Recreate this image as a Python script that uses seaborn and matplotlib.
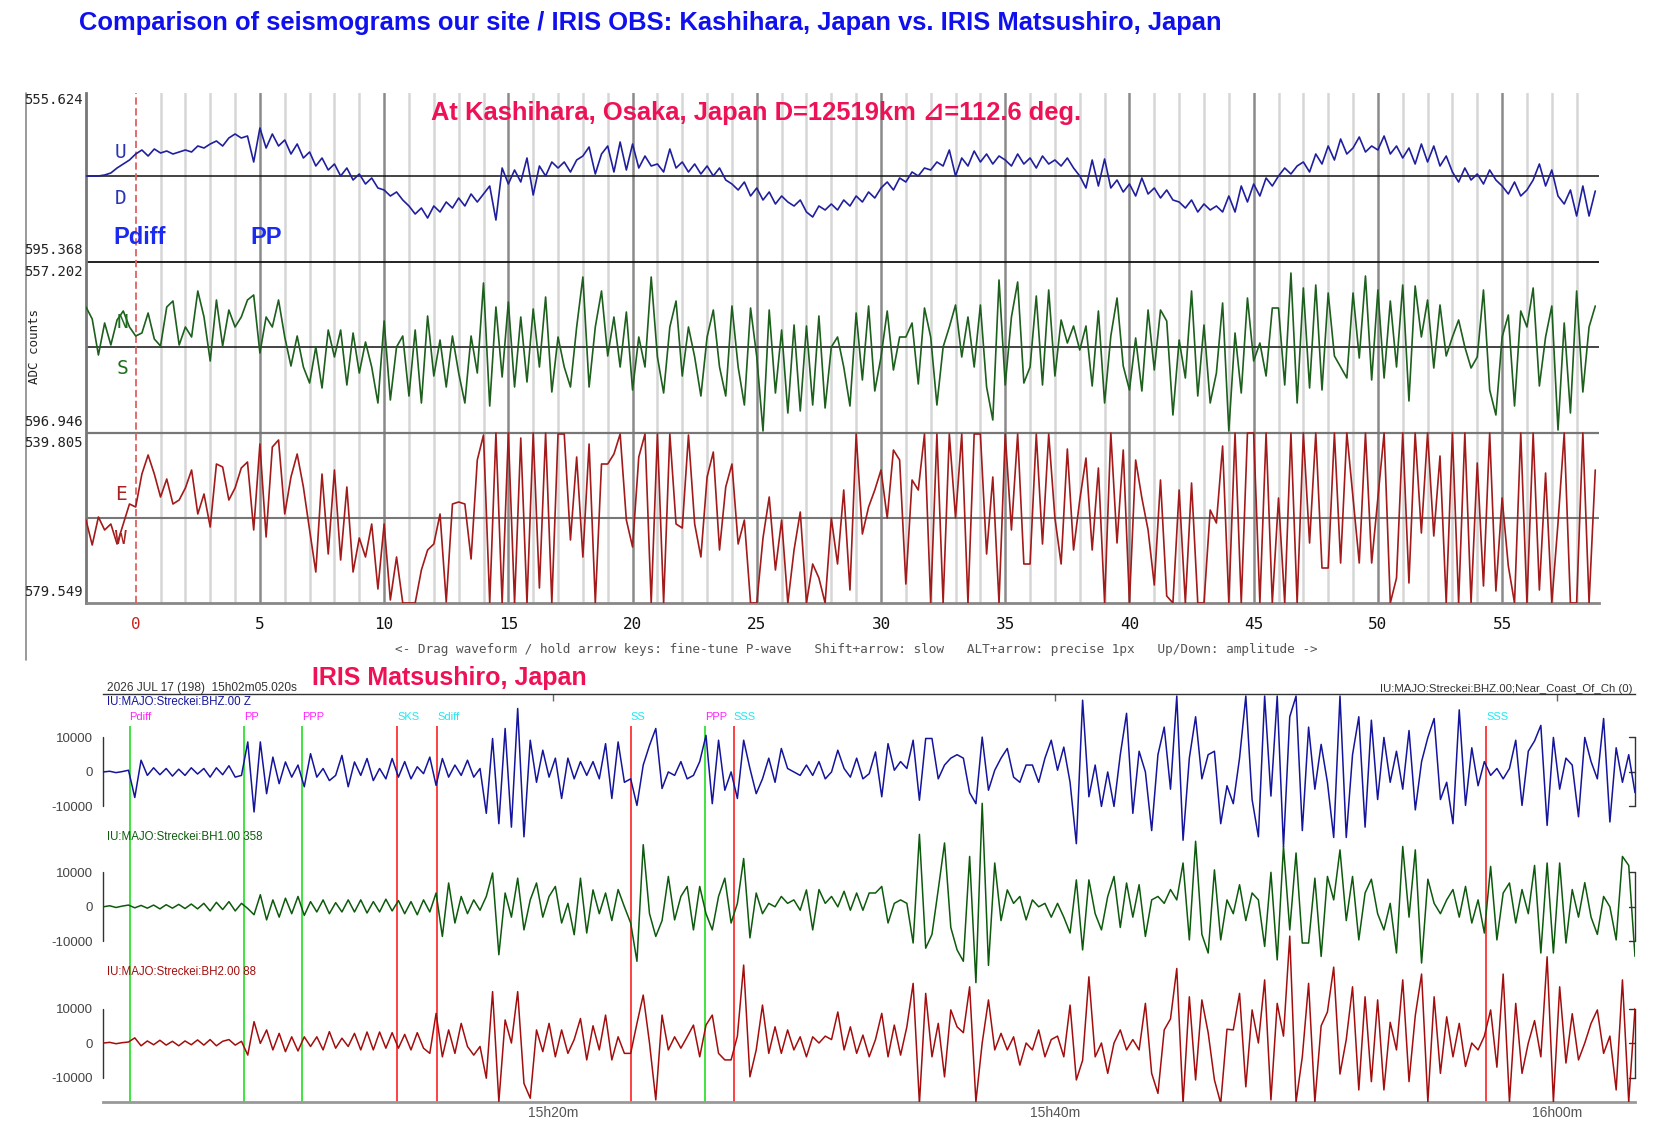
import numpy as np
import pandas as pd
import seaborn as sns
import matplotlib
matplotlib.use("Agg")
from matplotlib import pyplot as plt
from matplotlib.lines import Line2D

# ---- Kashihara (top) traces, read every 0.25 s from -2 s (relative amplitude, panel half = 85) ----
u_trace = [
    0, 0, 0, 1,   3, 8, 12, 16,   22, 26, 20, 27,   23, 25, 22, 24,   26, 24, 30, 28,
    32, 35, 30, 38,   42, 38, 40, 14,   48, 28, 42, 30,   36, 22, 32, 18,   24, 10, 18, 6,
    12, 0, 8, -4,   2, -8, -2, -12,   -14, -20, -16, -24,   -30, -38, -32, -42,   -30, -36, -26, -32,
    -22, -30, -18, -26,   -18, -10, -44, 8,   -8, 6, -6, 18,   -19, 10, 0, 14,   8, 14, 4, 16,
    20, 29, 2, 22,   30, 4, 34, 6,   32, 8, 20, 10,   12, 4, 27, 8,   14, 4, 12, 2,
    10, 0, 8, -4,   -8, -14, -6, -20,   -12, -24, -16, -28,   -20, -26, -30, -24,   -36, -41, -30, -34,
    -28, -34, -24, -30,   -20, -26, -16, -22,   -12, -6, -14, -2,   -6, 4, 0, 8,   6, 14, 10, 26,
    0, 18, 10, 25,   14, 22, 12, 20,   16, 10, 22, 12,   18, 8, 20, 12,   16, 10, 18, 8,
    0, -12, 16, -10,   17, -12, -4, -16,   -8, -20, -2, -18,   -12, -22, -14, -24,   -26, -32, -24, -36,
    -28, -34, -30, -36,   -20, -36, -10, -26,   -8, -20, -2, -10,   0, 8, 2, 10,   14, 4, 22, 12,
    30, 16, 37, 22,   28, 39, 24, 30,   26, 40, 22, 30,   18, 28, 12, 32,   14, 30, 10, 20,
    4, -6, 8, -4,   2, -8, 6, -4,   -10, -18, -6, -20,   -14, -4, 12, -10,   6, -20, -28, -14,
    -40, -10, -40, -15,
]
s_trace = [
    40, 28, -8, 24,   2, 27, 36, 20,   11, 14, 34, 8,   1, 40, 46, 2,   20, 10, 56, 30,
    -14, 47, 1, 37,   20, 30, 47, 52,   -6, 30, 20, 47,   10, -19, 11, -20,   -36, 0, -41, 17,
    -10, 17, -38, 14,   -26, 5, -20, -56,   26, -53, 0, 11,   -49, 17, -56, 31,   -29, 7, -40, 11,
    -26, -56, 11, -26,   64, -59, 40, -30,   45, -40, 30, -35,   38, -20, 50, -45,   10, -20, -40, 20,
    70, -40, 20, 56,   -9, 30, -20, 35,   -43, 10, -20, 70,   -10, -46, 20, 46,   -29, 20, -10, -49,
    10, 37, -20, -49,   41, -20, -58, 39,   -10, -84, 37, -46,   17, -66, 22, -64,   21, -58, 31, -61,
    0, 10, -20, -59,   34, -33, 41, -44,   -10, 36, -23, 10,   10, 24, -37, 39,   10, -58, 0, 20,
    42, -10, 30, -20,   42, -40, -73, 67,   -38, 30, 65, -36,   -20, 51, -38, 57,   -29, 27, 4, 21,
    -3, 21, -39, 36,   -56, 11, 49, -19,   -43, 9, -44, 37,   -23, 37, 26, -68,   7, -31, 56, -49,
    22, -56, -26, 44,   -84, 14, -46, 49,   -14, 4, -29, 39,   39, -38, 74, -56,   59, -41, 62, -43,
    54, -9, -20, -31,   54, -11, 71, -33,   57, -31, 46, -20,   62, -54, 61, 10,   47, -21, 42, -9,
    10, 27, 0, -21,   -10, 57, -43, -68,   10, 32, -59, 36,   20, 59, -39, 10,   41, -83, 24, -66,
    56, -45, 20, 41,
]
e_trace = [
    -2, -27, 1, -12,   -6, -26, -6, 14,   11, 44, 63, 44,   21, 39, 14, 18,   30, 48, 4, 24,
    -9, 54, 51, 18,   30, 50, 56, -12,   74, -19, 71, 78,   4, 41, 64, 31,   -12, -54, 44, -36,
    48, -42, 31, -54,   -20, -39, -6, -71,   -6, -82, -39, -85,   -85, -85, -52, -32,   -26, 4, -84, 14,
    16, 14, -41, 58,   83, -85, 85, -85,   85, -85, 80, -85,   85, -70, 85, -85,   84, 84, -22, 61,
    -39, 74, -85, 54,   54, 64, 84, -2,   -29, 61, 84, -85,   84, -85, 84, -6,   -10, 83, -6, -39,
    41, 66, -32, 31,   54, -26, -2, -85,   -85, -20, 21, -52,   -2, -85, -32, 6,   -85, -46, -60, -85,
    0, -46, 28, -72,   84, -16, 11, 28,   48, 0, 68, 58,   -66, 38, 28, 84,   -85, 84, -85, 84,
    0, 84, -85, 84,   84, -36, 41, -85,   84, -12, 84, -46,   -46, 84, -26, 84,   0, -46, 69, -32,
    18, 60, -32, 50,   -85, 85, -25, 68,   -85, 58, 20, -12,   -67, 38, -78, -85,   28, -85, 35, -85,
    -85, 8, -5, 72,   -85, 85, -85, 85,   85, -85, 85, -85,   20, -85, 85, -85,   85, -25, 85, -50,
    -50, 85, -45, 85,   20, -45, 85, -45,   20, 85, -85, -60,   85, -65, 85, -15,   85, -18, 62, -85,
    85, -85, 85, -85,   55, -68, 85, -73,   20, -48, -85, 85,   -85, 85, -72, 45,   -85, -5, 85, -85,
    -85, 85, -85, 48,
]
top_ticks = list(range(0, 60, 5))
top_limits = [("555.624", "595.368"), ("557.202", "596.946"), ("539.805", "579.549")]

# ---- IRIS MAJO (bottom) traces, thousand counts, every 0.25 min from 15h02.1m ----
z_trace = [
    0, 0.2, -0.2, 0.1,   0.5, -7.4, 3.4, -1,   1.2, -0.8, 1, -1.2,   0.8, -1, 1.2, -0.6,
    1, -1.5, 1.2, -0.8,   1.8, -1.5, -1, 8.7,   -11.6, 8.7, -6.3, 4.3,   -3.4, 2.9, -1.5, 2,
    -4.3, 5.3, -1.5, 1,   -2.5, -1, 4.8, -4.3,   2.9, -1, 3.9, -2.5,   1, -2, 3.9, -1.5,
    3, -2, 1.5, -0.5,   4.3, -3.9, 3.9, -1.5,   2, -1, 3.4, -1.5,   1, -12, 9.7, -15,
    12.6, -16, 18.4, -18.8,   9.2, -3, 6.3, -1.5,   4, -7.7, 4, -2,   3, -1, 3, -2,
    8.2, -7.7, 8.7, -3,   -2, -9.7, 2, 7.7,   12.6, -4.8, 0, -1,   3, -2, -1, 3,
    10.6, -9.2, 9.2, -5.3,   0, -7.7, 9.2, 1,   -6.3, -2, 4, -3,   6.8, 1, 0, -1,
    2, -1, 3, -2,   0, 6.3, 1, -1.5,   4, -2, -0.5, 5.8,   -7.2, 8.2, 0.5, 3,
    1, 9.2, -8.2, 9.7,   9.7, -2, 2, 4,   5, 4, -6, -9.2,   10.1, -5.3, 0.5, 4,
    6.8, -1.5, -3, 2,   2, -3, 4, 9.2,   0.5, 7.2, -3, -20.8,   20.8, -7.2, 2, -10,
    0, -10, 5, 17,   -12, 6, 0, -17,   5, 13, -5, 22,   -19.8, 4, 16, -2,
    5, 6, -15, -4,   -9.2, 4, 22, -8,   -18.8, 22, -7, 22,   -21.7, 16, 22, -17,
    13, -5, 8, -3,   -19, 22, -19, 5,   16, -16, 15, -8,   10, -3, 6, -5,
    12, -11, 3, 10,   15.5, -8, -3, -15,   18, -9.7, 7, -4,   3, -1, 1, -2,
    1, 9.2, -9.7, 6,   9, 13.5, -15.5, 10,   -5, 4, 2, -13,   10, 3, -2, 15.5,
    -14.5, 7, -3, 5,   -6,
]
bh1_trace = [
    0, 0.3, -0.2, 0.2,   0.5, -0.3, 0.4, -0.4,   0.5, -0.6, 0.6, -0.4,   0.7, -0.5, 0.8, -0.6,
    1, -1.2, 1.3, -0.8,   1.5, -1.2, 1, -0.5,   -2.3, 3.5, -3.8, 2,   -3, 2.5, -2, 3,
    -2.5, 1.5, -1.5, 2,   -2, 1.2, -1.5, 2,   -1.5, 2, -1.8, 1.5,   -1.5, 2.2, -1.2, 1.8,
    -2, 1.5, -2.3, 2,   -1.5, 4, -8.6, 6.9,   -4.7, 3, -2, 2,   -1, 3, 9.8, -13.9,
    4, -3, 8.3, -6.7,   2, 6.9, -3, 3,   5.9, -4.7, 1, -8.1,   8.3, -7.6, 4.9, -2,
    4, -4, 5, 0,   -4.7, -15.8, 18, -2,   -8.6, -4, 8.8, -3.8,   3, 5.9, -6.7, 5.9,
    -2, -6.7, 3, 8.3,   -4.7, 1, 14, -9,   4, -2, 1, 0,   3, 1, 2, -1,
    4.9, -6.7, 5, 1,   3, 0, 4.5, -1,   4, -1, 4, 4,   5.9, -4.7, 1, 2,
    1, -10.5, 21, -12,   -8, 5, 18.5, -6,   -12.5, -15.8, 14.6, -22,   30, -17, 12.7, -4,
    4.9, 1, 3, -3.8,   2, 0, 1, -3,   1, -3, -7.6, 7.8,   -12.5, 7.8, -2, -6.7,
    3, 8.8, -6, 6.9,   -3, 6.4, -8.6, 2,   3, 1, 5, 2,   12.7, -9.6, 19, -8,
    -13.4, 10.7, -9.6, 2,   -2, 6.4, -4, 4,   2, -11.5, 10, -15.4,   17.5, -6.7, 15.6, -10.5,
    -10.5, 8.3, -14.4, 8.8,   2, 16.5, -4, 8.8,   -9.6, 4, 8, -2,   -6.7, 1, -13.4, 17.5,
    -3, 16.5, -16.3, 8,   1, -2, 2, 5,   -3, 5.9, -4.7, 2,   -7.6, 11.7, -9.6, 4,
    6.9, -4.7, 5, -2,   12, -13.4, 12.7, -13.4,   12.7, -10.5, 5, -3,   7, -3, -8, 3,
    0, -9.6, 14.6, 12,   -14.4,
]
bh2_trace = [
    0, 0.2, -0.2, 0.1,   0.3, 1.5, -0.8, 0.6,   -0.5, 0.8, -0.6, 0.5,   -0.8, 0.6, -0.5, 0.9,
    -0.6, 1, -0.8, 0.5,   1, -0.6, 0.5, -3.5,   6.2, -0.1, 3.8, -2,   2.8, -2.5, 1.8, -2.3,
    1.8, -1, 1.8, -2,   3.3, -1.5, 1.4, -1,   2.8, -2, 3.2, -2,   3.2, -1.5, 3, -1.5,
    2.5, -2, 3, -1.5,   -3, 8.6, -4, 3.8,   -3, 5.7, -1, -3.5,   -1, -10.2, 14.9, -17,
    6.7, 0, 14.9, -11.7,   -16, 3.8, -2.5, 5.7,   -4, 3.8, -3, 1,   7.1, -4.9, 5, -2,
    8.1, -4.9, 1.8, -3,   -3, 5.7, 13.9, 0,   -16.5, 8.1, -2, 1.8,   -1.5, 1.8, 5.2, -4,
    5.2, 8.1, -3, -4.9,   -4.9, 2, 22.6, -9.8,   -2, 11, -3, 4.7,   -3, 3.8, -2, 1.8,
    -4, 1.8, 0, 2,   1, 9, -2, 4.7,   -3, 2.3, -4, 1,   8.6, -4, 5.2, -3.5,
    4.7, 17.3, -17.5, 14.4,   -4, 5.7, -9.8, 9.6,   4.7, 3, 16.3, -17,   0, 12.5, -2, 2.8,
    -2, 1.8, -6.4, 0,   -2, 3.8, -4, 1,   2, -4, 11, -10.7,   -5, 19.2, -4, 0,
    -8.8, 0, 3.8, -2,   1, -2, 11.5, -8.8,   -14.6, 3.8, 7, 21.6,   -17.5, 13.4, -10.7, 12.5,
    3, -10.7, -17.5, 4,   3.8, 14.4, -12.7, 9.6,   0, 18.3, -16.5, 11.5,   2, 31, -17.1, -4,
    17.3, -17.1, 5, 9,   22, -9, 1, 16.3,   -13.6, 13.4, -11.2, 12.5,   -13.6, 6, -2, 18.3,
    -11.2, 8, 20, -17.1,   13.4, -8.8, 7.6, -4,   5.7, -6.8, 0, -2,   2, 9.6, -7, 20,
    -17.1, 11.5, -8.8, 0,   6.5, -4, 25, -17.1,   16.3, -5.8, 8.5, -4.9,   0, 5.7, 9.6, -3,
    2, -13.6, 18.3, -17.1,   10,
]
phase_names = ["Pdiff", "PP", "PPP", "SKS", "Sdiff", "SS", "PPP", "SSS", "SSS"]
phase_times = [3.14, 7.70, 10.02, 13.80, 15.39, 23.10, 26.05, 27.20, 57.18]
phase_kind = ["P", "P", "P", "S", "S", "S", "P", "S", "S"]
time_ticks = [20, 40, 60]
time_labels = ["15h20m", "15h40m", "16h00m"]
chan_labels = ["IU:MAJO:Streckei:BHZ.00 Z", "IU:MAJO:Streckei:BH1.00 358", "IU:MAJO:Streckei:BH2.00 88"]

W, H = 1657, 1138


def fx(x):
    return x / W


def fy(y):
    return 1 - y / H


sns.set_style("white")
plt.rcParams['font.family'] = ['Liberation Sans', 'DejaVu Sans']
SANS = ['Liberation Sans', 'DejaVu Sans']
MONO = ['DejaVu Sans Mono']

fig = plt.figure(figsize=(W / 100, H / 100), dpi=100)

# ================= top panel =================
ax = fig.add_axes([fx(86), fy(603), (1599 - 86) / W, (603 - 93) / H])
t_top = np.arange(-2, 59, 0.25)
ax.set_xlim(-2, 58.9)
ax.set_ylim(0, 510)

for s in range(1, 59):
    ax.axvline(s, color='#8a8a8a' if s % 5 == 0 else '#d6d6d6', lw=1.8, zorder=0)
ax.axvline(0, color='#e06060', lw=1.3, ls=(0, (4, 2)), zorder=3)

centers = [427, 256, 85]
ax.axhline(341, color='#111111', lw=1.3)
ax.axhline(170, color='#777777', lw=1.6)
ax.axhline(427, color='#111111', lw=1.1)
ax.axhline(256, color='#111111', lw=1.1)
ax.axhline(85, color='#777777', lw=1.5)

top_colors = ['#1f1f9e', '#1d5f1d', '#a31a1a']
for vals, c, col in zip([u_trace, s_trace, e_trace], centers, top_colors):
    df = pd.DataFrame({'t': t_top, 'v': np.array(vals) + c})
    sns.lineplot(data=df, x='t', y='v', ax=ax, color=col, lw=1.2, estimator=None, zorder=4)

ax.set_xlabel('')
ax.set_ylabel('')
ax.set_yticks([])
ax.set_xticks(top_ticks)
ax.set_xticklabels([str(v) for v in top_ticks], family=MONO, fontsize=11.5, color='#111111')
ax.get_xticklabels()[0].set_color('#cc2222')
ax.set_xticks(range(1, 59), minor=True)
ax.tick_params(axis='x', which='both', direction='out', length=6, width=1, color='#666666', pad=4)
for side in ['top', 'right']:
    ax.spines[side].set_visible(False)
ax.spines['left'].set_color('#777777')
ax.spines['left'].set_linewidth(2)
ax.spines['bottom'].set_color('#888888')
ax.spines['bottom'].set_linewidth(2)

# panel limit labels
lim_y = [(100, 250), (272, 422), (443, 592)]
for (a, b), (ya, yb) in zip(top_limits, lim_y):
    fig.text(fx(83), fy(ya), a, ha='right', va='center', family=MONO, fontsize=10, color='#222222')
    fig.text(fx(83), fy(yb), b, ha='right', va='center', family=MONO, fontsize=10, color='#222222')
fig.text(fx(35), fy(347), 'ADC counts', rotation=90, ha='center', va='center', family=MONO,
         fontsize=9, color='#222222')

comp = [('U', 120, 153, '#2a35b5'), ('D', 121, 199, '#2a35b5'), ('N', 122, 322, '#1e6e1e'),
        ('S', 122, 369, '#1e6e1e'), ('E', 121, 495, '#a82222'), ('W', 121, 538, '#a82222')]
for txt, x, y, col in comp:
    fig.text(fx(x), fy(y), txt, ha='center', va='center', family=MONO, fontsize=14, color=col)
fig.text(fx(113), fy(237), 'Pdiff', ha='left', va='center', fontsize=17, fontweight='bold', color='#1a2aee')
fig.text(fx(250), fy(237), 'PP', ha='left', va='center', fontsize=17, fontweight='bold', color='#1a2aee')

fig.text(fx(79), fy(23), 'Comparison of seismograms our site / IRIS OBS: Kashihara, Japan vs. IRIS Matsushiro, Japan',
         ha='left', va='center', fontsize=18.4, fontweight='bold', color='#1010ee')
fig.text(fx(431), fy(113), 'At Kashihara, Osaka, Japan D=12519km \u22bf=112.6 deg.', ha='left', va='center',
         fontsize=18.4, fontweight='bold', color='#ee1155', family=SANS)
fig.text(fx(856), fy(649), '<- Drag waveform / hold arrow keys: fine-tune P-wave   Shift+arrow: slow   '
         'ALT+arrow: precise 1px   Up/Down: amplitude ->', ha='center', va='center', family=MONO,
         fontsize=9.2, color='#555555')
fig.add_artist(Line2D([fx(26), fx(26)], [fy(93), fy(660)], color='#888888', lw=1.2))

# ================= bottom panel =================
bx = fig.add_axes([fx(103), fy(1102), (1635 - 103) / W, (1102 - 694) / H])
t_bot = 2.1 + 0.25 * np.arange(len(z_trace))
offsets = [0, -39.1, -78.6]
bx.set_xlim(2.084, 63.1)
bx.set_ylim(-95.7, 22.6)

for pt, kind in zip(phase_times, phase_kind):
    bx.vlines(pt, -95.7, 13.3, color='#33e033' if kind == 'P' else '#ff3333', lw=1.3, zorder=1)
for name, pt, kind in zip(phase_names, phase_times, phase_kind):
    bx.text(pt, 15.8, name, ha='left', va='center', family=SANS, fontsize=8,
            color='#ff22ff' if kind == 'P' else '#22e8f0')

bot_colors = ['#14149c', '#0d5a0d', '#a30d0d']
for vals, off, col in zip([z_trace, bh1_trace, bh2_trace], offsets, bot_colors):
    df = pd.DataFrame({'t': t_bot, 'v': np.array(vals) + off})
    sns.lineplot(data=df, x='t', y='v', ax=bx, color=col, lw=1.1, estimator=None, zorder=3)

bx.set_xlabel('')
bx.set_ylabel('')
yt, yl = [], []
for off in offsets:
    yt += [off + 10, off, off - 10]
    yl += ['10000', '0', '-10000']
bx.set_yticks(yt)
bx.set_yticklabels(yl)
bx.tick_params(axis='y', direction='out', length=6, width=1, color='#333333', labelcolor='#444444',
               labelsize=9.5, pad=1)
bx.set_xticks(time_ticks)
bx.set_xticklabels(time_labels)
bx.tick_params(axis='x', direction='in', length=5, width=1, color='#666666', top=True,
               labelcolor='#555555', labelsize=10, pad=3)
for side in ['left', 'right']:
    bx.spines[side].set_visible(False)
bx.spines['top'].set_color('#333333')
bx.spines['top'].set_linewidth(1)
bx.spines['bottom'].set_color('#999999')
bx.spines['bottom'].set_linewidth(2)

tr = bx.get_yaxis_transform()
tick_w = 6 / (1635 - 103)
for off in offsets:
    bx.plot([0, 0], [off - 10, off + 10], transform=tr, color='#333333', lw=1, clip_on=False)
    bx.plot([1, 1], [off - 10, off + 10], transform=tr, color='#333333', lw=1, clip_on=False)
    for yy in [off - 10, off, off + 10]:
        bx.plot([1 - tick_w, 1], [yy, yy], transform=tr, color='#333333', lw=1, clip_on=False)

fig.text(fx(107), fy(688), '2026 JUL 17 (198)  15h02m05.020s', ha='left', va='center', family=SANS,
         fontsize=8.6, color='#333333')
fig.text(fx(1633), fy(689), 'IU:MAJO:Streckei:BHZ.00;Near_Coast_Of_Ch (0)', ha='right', va='center',
         family=SANS, fontsize=8.2, color='#333333')
for lab, y, col in zip(chan_labels, [702, 837, 972], bot_colors):
    fig.text(fx(107), fy(y), lab, ha='left', va='center', family=SANS, fontsize=8.3, color=col)
fig.text(fx(312), fy(678), 'IRIS Matsushiro, Japan', ha='left', va='center', family=SANS,
         fontsize=18, fontweight='bold', color='#ee1155')

fig.savefig('out.png', dpi=100)
